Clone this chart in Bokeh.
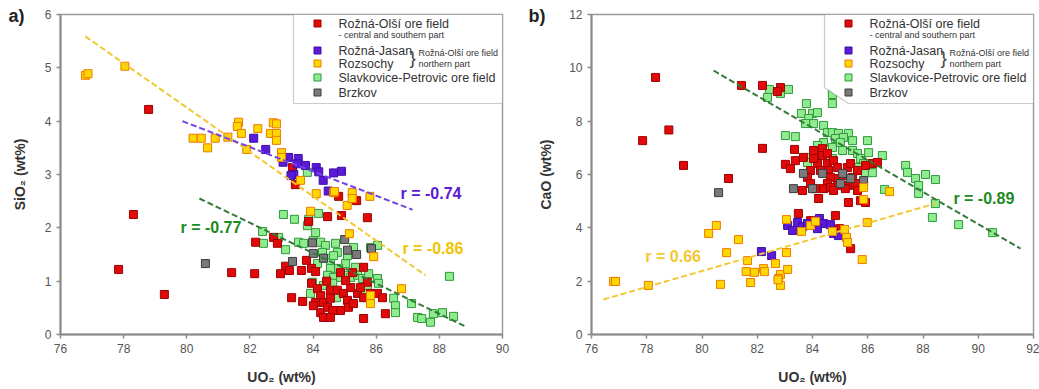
import numpy as np
from bokeh.plotting import figure
from bokeh.models import Range1d, FixedTicker, Label, BoxAnnotation, PolyAnnotation
from bokeh.layouts import row
from bokeh.embed import file_html
from bokeh.resources import INLINE

FONT = "Liberation Sans"

# ---------------- Panel a) SiO2 vs UO2 ----------------
a_x_ticks = [76, 78, 80, 82, 84, 86, 88, 90]
a_y_ticks = [0, 1, 2, 3, 4, 5, 6]

a_rozna_x = [78.79, 83.35, 83.44, 84.81, 85.38, 78.31, 77.84, 79.29, 81.42, 82.15, 82.18, 82.75, 82.87,
             84.46, 84.90, 85.72, 83.86, 83.79, 83.13, 82.97, 83.25, 83.63, 83.95, 84.08, 83.95, 83.32,
             83.67, 84.14, 84.24, 84.08, 84.33, 84.24, 84.33, 84.46, 84.55, 84.87, 85.60, 85.72, 84.77,
             84.96, 85.09, 84.87, 85.12, 85.28, 84.62, 84.55, 85.41, 85.60, 85.82, 86.04, 86.20, 85.60,
             86.29, 85.19, 85.50, 84.55, 85.03, 85.25, 84.43, 84.01]
a_rozna_y = [4.22, 3.13, 2.81, 2.59, 2.51, 2.25, 1.22, 0.75, 1.16, 1.14, 1.73, 1.82, 1.71,
             2.21, 2.23, 2.19, 2.12, 1.39, 1.28, 1.14, 1.20, 1.20, 1.24, 1.18, 0.96, 0.69,
             0.62, 0.86, 0.73, 0.60, 0.60, 0.41, 0.32, 0.51, 0.83, 1.16, 1.26, 0.98, 0.83,
             0.77, 0.64, 0.45, 0.51, 0.58, 0.45, 0.32, 0.77, 0.69, 0.77, 0.77, 0.69, 0.30,
             0.39, 0.88, 0.88, 0.68, 1.01, 1.16, 1.00, 0.54]

a_jasan_x = [82.12, 82.50, 83.22, 83.53, 83.05, 83.76, 84.10, 83.39, 83.30, 84.18, 84.32, 84.65, 84.90,
             84.48, 83.50]
a_jasan_y = [3.68, 3.47, 3.32, 3.30, 3.23, 3.17, 3.13, 3.00, 2.98, 3.05, 2.89, 3.03, 3.06,
             2.69, 3.20]

a_rozsochy_x = [76.79, 76.87, 78.04, 80.20, 80.46, 80.66, 80.90, 81.30, 81.64, 81.60, 81.73, 81.90,
                82.25, 82.65, 82.74, 82.84, 82.84, 82.84, 83.00, 83.00, 83.60, 84.10, 84.65, 85.24,
                85.80, 85.08, 85.24, 83.92, 85.15, 85.92, 86.80, 85.82, 85.82, 84.68]
a_rozsochy_y = [4.86, 4.89, 5.03, 3.68, 3.68, 3.50, 3.68, 3.70, 3.98, 3.90, 3.77, 3.47,
                3.86, 3.77, 3.97, 3.95, 3.77, 3.64, 3.41, 3.32, 2.89, 2.64, 2.66, 2.66,
                2.59, 2.42, 2.55, 2.31, 1.89, 1.46, 0.86, 0.73, 0.58, 2.68]

a_slav_x = [83.06, 83.41, 83.86, 83.82, 82.40, 82.43, 82.91, 83.13, 83.54, 83.70, 84.01, 84.08, 84.24,
            84.39, 84.71, 84.77, 84.30, 84.14, 84.39, 84.55, 84.65, 85.03, 85.28, 85.09, 85.34, 84.81,
            84.55, 84.46, 84.65, 84.87, 85.03, 85.19, 85.41, 85.57, 85.76, 85.82, 86.04, 86.04, 86.07,
            85.57, 85.72, 83.92, 84.62, 84.33, 84.74, 83.98, 86.55, 86.61, 86.61, 88.32, 87.12, 87.31,
            87.44, 87.72, 87.81, 88.10, 88.45, 83.82, 84.17]
a_slav_y = [2.25, 2.16, 2.16, 2.04, 1.93, 1.71, 1.82, 1.59, 1.73, 1.71, 1.76, 1.91, 1.73,
            1.67, 1.71, 1.54, 1.54, 1.33, 1.43, 1.35, 1.48, 1.33, 1.63, 1.48, 1.26, 1.24,
            1.24, 1.11, 1.07, 1.07, 1.11, 1.07, 1.11, 1.05, 1.14, 1.63, 1.67, 1.05, 0.96,
            0.83, 0.92, 0.77, 0.96, 0.92, 0.69, 0.98, 0.68, 0.54, 0.41, 1.09, 0.58, 0.32,
            0.30, 0.23, 0.39, 0.41, 0.34, 3.04, 2.27]

a_brzkov_x = [80.59, 83.35, 83.98, 84.01, 84.33, 85.00, 85.09, 85.38, 85.85]
a_brzkov_y = [1.33, 1.37, 1.72, 1.52, 1.43, 1.78, 1.58, 1.50, 1.61]

# regression lines (end points) and r values
a_fit_rozsochy_x = [76.79, 87.56]
a_fit_rozsochy_y = [5.59, 1.11]
a_fit_jasan_x = [79.86, 87.15]
a_fit_jasan_y = [4.00, 2.34]
a_fit_slav_x = [80.40, 88.83]
a_fit_slav_y = [2.55, 0.15]
a_r_labels = ["r = -0.74", "r = -0.86", "r = -0.77"]
a_r_x = [86.77, 86.83, 79.80]
a_r_y = [2.64, 1.61, 2.00]

# ---------------- Panel b) CaO vs UO2 ----------------
b_x_ticks = [76, 78, 80, 82, 84, 86, 88, 90, 92]
b_y_ticks = [0, 2, 4, 6, 8, 10, 12]

b_rozna_x = [78.32, 77.85, 78.80, 79.33, 80.96, 81.43, 82.19, 82.84, 82.73, 82.19, 83.35, 83.02, 83.20,
             83.67, 83.38, 84.04, 84.36, 84.36, 84.54, 84.18, 84.54, 84.76, 84.29, 84.58, 84.91, 85.27,
             85.38, 85.63, 85.45, 85.30, 83.93, 83.82, 84.65, 84.94, 84.54, 84.91, 85.56, 83.64, 83.93,
             84.11, 84.40, 84.65, 84.76, 85.19, 85.63, 84.22, 85.30, 85.74, 85.92, 83.49, 84.83, 83.93,
             84.22, 84.98, 85.38, 86.17, 86.35, 84.04, 85.09, 85.92]
b_rozna_y = [9.64, 7.27, 7.67, 6.34, 5.85, 9.34, 9.34, 9.26, 9.11, 6.98, 6.94, 6.38, 6.22,
             6.64, 6.52, 6.90, 6.97, 6.71, 6.79, 6.41, 6.41, 6.52, 6.15, 6.15, 6.26, 6.26,
             6.41, 6.15, 5.89, 5.59, 6.15, 5.89, 5.89, 5.85, 5.66, 5.59, 5.66, 5.40, 5.66,
             5.47, 5.47, 5.51, 5.40, 5.47, 5.40, 5.10, 4.95, 5.02, 4.95, 4.54, 4.46, 4.27,
             4.20, 3.97, 3.22, 6.41, 6.45, 6.60, 5.96, 6.34]

b_jasan_x = [82.15, 82.52, 83.10, 83.28, 83.46, 83.64, 83.82, 84.11, 84.25, 84.40, 84.18, 84.65,
             84.76, 84.94]
b_jasan_y = [3.11, 2.96, 4.09, 3.90, 4.20, 4.05, 4.16, 4.09, 4.35, 4.16, 3.97, 4.12,
             3.79, 3.71]

b_rozsochy_x = [76.80, 76.87, 78.06, 80.24, 80.52, 81.32, 80.89, 80.67, 81.65, 81.60, 81.90, 81.76,
                82.23, 82.26, 82.66, 82.84, 82.77, 82.84, 83.10, 83.06, 83.06, 83.60, 83.93, 84.11,
                84.72, 85.16, 85.23, 85.27, 85.80, 85.98, 85.85, 85.85, 86.79, 82.75]
b_rozsochy_y = [1.99, 1.99, 1.84, 3.79, 4.09, 3.56, 3.07, 1.88, 2.77, 2.36, 2.33, 1.95,
                2.47, 2.36, 2.66, 2.25, 2.10, 1.84, 2.44, 3.07, 4.31, 3.86, 4.09, 4.24,
                3.86, 3.94, 3.64, 3.45, 2.81, 4.20, 5.06, 5.51, 5.36, 2.05]

b_slav_x = [82.44, 82.37, 82.84, 83.13, 84.72, 83.78, 83.60, 84.00, 84.18, 83.86, 84.04, 84.40, 83.75,
            84.54, 84.72, 84.94, 85.30, 84.83, 85.12, 84.40, 84.72, 85.01, 85.45, 85.99, 84.18, 84.11,
            85.09, 85.45, 85.63, 86.03, 85.74, 86.53, 83.93, 83.82, 84.72, 85.85, 86.10, 85.63, 85.92,
            86.17, 87.37, 87.44, 87.73, 87.84, 88.09, 88.45, 86.61, 87.84, 88.45, 88.34, 89.29, 90.52,
            83.02, 83.38, 84.72]
b_slav_y = [9.19, 8.89, 9.04, 9.19, 9.00, 8.66, 8.29, 8.29, 8.32, 8.10, 7.91, 7.84, 7.91,
            7.57, 7.57, 7.54, 7.54, 7.35, 7.39, 7.20, 7.01, 7.20, 7.27, 7.27, 7.09, 6.82,
            6.90, 6.90, 6.79, 6.82, 6.60, 6.71, 6.64, 6.45, 6.60, 6.41, 6.41, 6.26, 6.07,
            6.07, 6.34, 6.08, 5.85, 5.59, 6.00, 5.81, 5.44, 5.29, 4.91, 4.39, 4.12, 3.82,
            7.46, 7.42, 8.66]

b_brzkov_x = [80.60, 83.31, 84.00, 83.67, 84.36, 85.09, 85.38, 85.01, 85.85]
b_brzkov_y = [5.32, 5.47, 5.47, 6.04, 6.04, 6.04, 5.85, 5.66, 5.77]

b_fit_rozsochy_x = [76.43, 88.45]
b_fit_rozsochy_y = [1.31, 4.91]
b_fit_slav_x = [80.42, 91.53]
b_fit_slav_y = [9.90, 3.22]
b_r_labels = ["r = -0.89", "r = 0.66"]
b_r_x = [89.10, 77.95]
b_r_y = [5.10, 2.92]

legend_names = ["Rožná-Olší ore field", "Rožná-Jasan", "Rozsochy",
                "Slavkovice-Petrovic ore field", "Brzkov"]

# styles
ST = {
    "rozna": dict(fill="#e00a0a", line="#a00000"),
    "jasan": dict(fill="#5a1ad8", line="#3e0fa8"),
    "rozsochy": dict(fill="#ffd800", line="#ee7a00"),
    "slav": dict(fill="#8eec8e", line="#2f9a3a"),
    "brzkov": dict(fill="#7a7a7a", line="#3c3c3c"),
}
LINE_COL = {"rozsochy": "#f2c832", "jasan": "#7444e6", "slav": "#347a3a"}
R_COL_A = ["#5a1ad8", "#f2c400", "#1c8a1c"]
R_COL_B = ["#238a23", "#f2c832"]

FW, FH = 442, 320


def make_panel(xr, yr, xt, yt, ylabel, left, right, series, fits, rtexts, rx, ry, rcols,
               panel_tag, cut_corner):
    p = figure(width=left + FW + right, height=14 + FH + 55,
               x_range=Range1d(*xr), y_range=Range1d(*yr),
               output_backend="svg", toolbar_location=None,
               min_border_left=left, min_border_right=right,
               min_border_top=14, min_border_bottom=55)
    p.grid.visible = False
    p.background_fill_color = "white"
    p.border_fill_color = "white"
    p.outline_line_color = "#9a9a9a"
    p.outline_line_width = 1.5
    p.xaxis.ticker = FixedTicker(ticks=xt)
    p.yaxis.ticker = FixedTicker(ticks=yt)
    for ax in (p.xaxis[0], p.yaxis[0]):
        ax.axis_line_color = "#8a8a8a"
        ax.axis_line_width = 2
        ax.major_tick_line_color = "#8a8a8a"
        ax.major_tick_line_width = 1.5
        ax.major_tick_out = 4
        ax.major_tick_in = 0
        ax.minor_tick_out = 0
        ax.minor_tick_in = 0
        ax.major_label_text_font = FONT
        ax.major_label_text_font_size = "12px"
        ax.major_label_text_color = "#555555"
        ax.major_label_standoff = 5
        ax.axis_label_text_font = FONT
        ax.axis_label_text_font_size = "14px"
        ax.axis_label_text_font_style = "bold"
        ax.axis_label_text_color = "#333333"
    p.xaxis.axis_label = "UO₂ (wt%)"
    p.yaxis.axis_label = ylabel
    p.xaxis.axis_label_standoff = 13
    p.yaxis.axis_label_standoff = 14 if yr[1] < 10 else 12

    # panel tag as the plot title, pulled to the left of the y axis and
    # lowered by an empty, compressed first line
    p.title.text = "\n" + panel_tag
    p.title.align = "left"
    p.title.offset = -(left - 8)
    p.title.standoff = -26
    p.title.vertical_align = "top"
    p.title.text_font = FONT
    p.title.text_font_size = "18px"
    p.title.text_font_style = "bold"
    p.title.text_line_height = 0.52
    p.title.text_color = "#222222"

    for key, xs, ys in series:
        st = ST[key]
        p.scatter(xs, ys, marker="square", size=8, fill_color=st["fill"],
                  line_color=st["line"], line_width=1)

    for key, xs, ys in fits:
        p.line(xs, ys, line_color=LINE_COL[key], line_width=2, line_dash="6 3")

    for t, x, y, c in zip(rtexts, rx, ry, rcols):
        p.add_layout(Label(x=x, y=y, text=t, text_font=FONT, text_font_size="16px",
                           text_font_style="bold", text_color=c, text_baseline="middle"))

    def dx(sx):
        return xr[0] + sx / FW * (xr[1] - xr[0])

    def dy(sy):
        return yr[1] - sy / FH * (yr[1] - yr[0])

    # legend box
    if cut_corner:
        bx = [233, 442, 442, 257, 233]
        by = [0, 0, 89, 89, 73]
    else:
        bx = [233, 442, 442, 233]
        by = [0, 0, 89, 89]
    p.add_layout(PolyAnnotation(xs=[dx(v) for v in bx], ys=[dy(v) for v in by],
                                fill_color="white", fill_alpha=1.0,
                                line_color="#555555", line_width=1.2))
    keys = ["rozna", "jasan", "rozsochy", "slav", "brzkov"]
    rows_sy = [9, 36, 49, 63, 78]
    for k, name, sy in zip(keys, legend_names, rows_sy):
        st = ST[k]
        p.add_layout(BoxAnnotation(left=dx(257 - 3.5), right=dx(257 + 3.5),
                                   top=dy(sy - 3.5), bottom=dy(sy + 3.5),
                                   fill_color=st["fill"], fill_alpha=1.0,
                                   line_color=st["line"], line_width=1, line_alpha=1.0))
        p.add_layout(Label(x=dx(278), y=dy(sy), text=name, text_font=FONT,
                           text_font_size="12.5px", text_color="#333333",
                           text_baseline="middle"))
    p.add_layout(Label(x=dx(278), y=dy(20), text="- central and southern part", text_font=FONT,
                       text_font_size="9px", text_color="#333333", text_baseline="middle"))
    p.add_layout(Label(x=dx(349), y=dy(43), text="}", text_font=FONT,
                       text_font_size="19px", text_color="#444444", text_baseline="middle"))
    p.add_layout(Label(x=dx(358), y=dy(38), text="Rožná-Olší ore field", text_font=FONT,
                       text_font_size="9px", text_color="#333333", text_baseline="middle"))
    p.add_layout(Label(x=dx(358), y=dy(49), text="northern part", text_font=FONT,
                       text_font_size="9px", text_color="#333333", text_baseline="middle"))
    return p


pa = make_panel((76, 90), (0, 6), a_x_ticks, a_y_ticks, "SiO₂ (wt%)", 60, 18,
                [("slav", a_slav_x, a_slav_y), ("rozna", a_rozna_x, a_rozna_y),
                 ("brzkov", a_brzkov_x, a_brzkov_y), ("jasan", a_jasan_x, a_jasan_y),
                 ("rozsochy", a_rozsochy_x, a_rozsochy_y)],
                [("rozsochy", a_fit_rozsochy_x, a_fit_rozsochy_y),
                 ("jasan", a_fit_jasan_x, a_fit_jasan_y),
                 ("slav", a_fit_slav_x, a_fit_slav_y)],
                a_r_labels, a_r_x, a_r_y, R_COL_A, "a)", False)

pb = make_panel((76, 92), (0, 12), b_x_ticks, b_y_ticks, "CaO (wt%)", 71, 6,
                [("slav", b_slav_x, b_slav_y), ("rozna", b_rozna_x, b_rozna_y),
                 ("brzkov", b_brzkov_x, b_brzkov_y), ("jasan", b_jasan_x, b_jasan_y),
                 ("rozsochy", b_rozsochy_x, b_rozsochy_y)],
                [("rozsochy", b_fit_rozsochy_x, b_fit_rozsochy_y),
                 ("slav", b_fit_slav_x, b_fit_slav_y)],
                b_r_labels, b_r_x, b_r_y, R_COL_B, "b)", True)

layout = row(pa, pb)
open("out.html", "w").write(file_html(layout, INLINE))
